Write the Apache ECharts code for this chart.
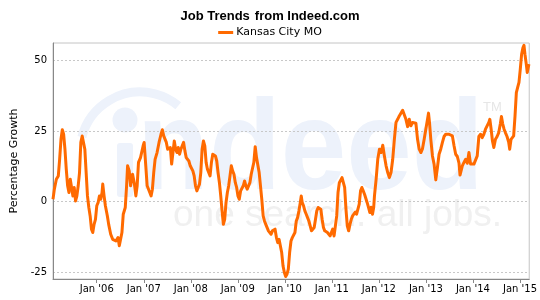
<!DOCTYPE html>
<html>
<head>
<meta charset="utf-8">
<title>Job Trends from Indeed.com</title>
<script src="https://cdn.jsdelivr.net/npm/echarts@6/dist/echarts.min.js"></script>
<style>
  html, body { margin: 0; padding: 0; background: #fff; }
  #chartsmain { width: 540px; height: 300px; }
</style>
</head>
<body>
<div id="chartsmain"></div>

<script>
    // weekly-ish samples, decimal years
    var weeks = [
        2005.070, 2005.099, 2005.141, 2005.183, 2005.211, 2005.240, 2005.268, 2005.296, 2005.324, 2005.352,
        2005.381, 2005.409, 2005.437, 2005.465, 2005.493, 2005.521, 2005.550, 2005.578, 2005.606, 2005.634,
        2005.662, 2005.691, 2005.719, 2005.747, 2005.775, 2005.803, 2005.832, 2005.860, 2005.888, 2005.916,
        2005.944, 2005.973, 2006.001, 2006.029, 2006.057, 2006.085, 2006.113, 2006.128, 2006.156, 2006.184,
        2006.226, 2006.254, 2006.297, 2006.339, 2006.381, 2006.409, 2006.452, 2006.480, 2006.508, 2006.536,
        2006.564, 2006.607, 2006.635, 2006.656, 2006.691, 2006.720, 2006.762, 2006.797, 2006.832, 2006.860,
        2006.888, 2006.931, 2006.959, 2006.987, 2007.008, 2007.043, 2007.072, 2007.100, 2007.128, 2007.156,
        2007.184, 2007.212, 2007.241, 2007.283, 2007.325, 2007.367, 2007.396, 2007.424, 2007.452, 2007.480,
        2007.508, 2007.537, 2007.565, 2007.593, 2007.621, 2007.649, 2007.678, 2007.706, 2007.734, 2007.762,
        2007.790, 2007.818, 2007.847, 2007.875, 2007.903, 2007.931, 2007.959, 2007.988, 2008.016, 2008.044,
        2008.072, 2008.100, 2008.129, 2008.157, 2008.185, 2008.213, 2008.241, 2008.269, 2008.298, 2008.326,
        2008.354, 2008.382, 2008.410, 2008.439, 2008.467, 2008.496, 2008.524, 2008.552, 2008.580, 2008.609,
        2008.637, 2008.665, 2008.693, 2008.721, 2008.749, 2008.778, 2008.806, 2008.834, 2008.862, 2008.890,
        2008.918, 2008.947, 2008.975, 2009.003, 2009.031, 2009.060, 2009.088, 2009.116, 2009.144, 2009.172,
        2009.200, 2009.229, 2009.257, 2009.285, 2009.313, 2009.341, 2009.370, 2009.398, 2009.426, 2009.454,
        2009.482, 2009.510, 2009.539, 2009.567, 2009.595, 2009.623, 2009.651, 2009.680, 2009.708, 2009.736,
        2009.764, 2009.792, 2009.821, 2009.849, 2009.877, 2009.905, 2009.933, 2009.962, 2009.990, 2010.018,
        2010.046, 2010.074, 2010.102, 2010.131, 2010.159, 2010.187, 2010.215, 2010.243, 2010.271, 2010.300,
        2010.328, 2010.349, 2010.370, 2010.398, 2010.426, 2010.455, 2010.483, 2010.511, 2010.539, 2010.567,
        2010.596, 2010.624, 2010.652, 2010.680, 2010.708, 2010.736, 2010.765, 2010.793, 2010.821, 2010.849,
        2010.877, 2010.906, 2010.934, 2010.962, 2010.990, 2011.018, 2011.047, 2011.075, 2011.103, 2011.131,
        2011.159, 2011.187, 2011.216, 2011.244, 2011.272, 2011.300, 2011.328, 2011.357, 2011.385, 2011.413,
        2011.441, 2011.469, 2011.498, 2011.526, 2011.554, 2011.582, 2011.610, 2011.638, 2011.667, 2011.695,
        2011.723, 2011.751, 2011.779, 2011.808, 2011.836, 2011.864, 2011.890, 2011.906, 2011.941, 2011.976,
        2012.012, 2012.047, 2012.082, 2012.117, 2012.153, 2012.188, 2012.223, 2012.258, 2012.294, 2012.329,
        2012.364, 2012.399, 2012.434, 2012.470, 2012.505, 2012.540, 2012.575, 2012.611, 2012.646, 2012.681,
        2012.716, 2012.752, 2012.787, 2012.822, 2012.857, 2012.893, 2012.928, 2012.963, 2012.998, 2013.034,
        2013.055, 2013.076, 2013.104, 2013.139, 2013.174, 2013.210, 2013.245, 2013.280, 2013.315, 2013.351,
        2013.386, 2013.421, 2013.456, 2013.492, 2013.527, 2013.563, 2013.598, 2013.633, 2013.668, 2013.704,
        2013.725, 2013.746, 2013.774, 2013.809, 2013.845, 2013.880, 2013.915, 2013.950, 2013.986, 2014.021,
        2014.056, 2014.091, 2014.126, 2014.162, 2014.197, 2014.232, 2014.267, 2014.303, 2014.338, 2014.359,
        2014.387, 2014.415, 2014.444, 2014.479, 2014.514, 2014.549, 2014.585, 2014.606, 2014.634, 2014.662,
        2014.690, 2014.725, 2014.761, 2014.782, 2014.810, 2014.838, 2014.866, 2014.895, 2014.923, 2014.951,
        2014.979, 2015.007, 2015.035, 2015.064, 2015.085, 2015.106, 2015.134, 2015.155, 2015.176, 2015.190
    ];

    // Kansas City MO, percentage growth
    var growth = [
        0.8, 4.4, 7.9, 9.1, 15.0, 22.1, 25.5, 23.9, 18.6, 11.5,
        5.6, 3.2, 7.9, 5.0, 2.0, 5.0, 0.2, 2.0, 5.6, 10.3,
        21.0, 23.3, 22.7, 18.6, 10.3, 2.0, -2.1, -5.1, -9.8, -11.0,
        -8.1, -6.3, -1.5, -0.4, 2.0, 0.8, 3.2, 6.2, 2.0, -1.5,
        -5.1, -8.1, -11.6, -13.4, -12.8, -14.0, -12.8, -15.7, -16.3, -11.0,
        -4.5, -2.1, 5.6, 12.7, 10.9, 5.6, 9.7, 6.7, 2.0, 5.6,
        13.9, 15.6, 16.2, 19.8, 21.0, 12.7, 5.6, 5.0, 3.2, 2.0,
        4.4, 10.3, 15.0, 17.4, 21.0, 23.9, 25.5, 23.3, 22.7, 21.0,
        18.6, 18.0, 19.2, 13.3, 17.4, 21.5, 18.6, 17.4, 19.2, 16.8,
        18.6, 19.8, 21.0, 18.0, 15.6, 15.0, 14.4, 12.7, 12.1, 10.9,
        9.1, 5.6, 3.8, 5.0, 6.2, 10.3, 18.6, 21.5, 19.8, 13.9,
        11.5, 10.9, 9.1, 13.9, 16.8, 16.8, 16.2, 14.4, 10.3, 6.7,
        2.0, -3.3, -8.1, -6.3, -0.4, 3.2, 5.6, 9.1, 12.7, 10.9,
        9.7, 6.7, 5.0, 2.0, 0.8, 3.8, 3.2, 5.6, 7.3, 5.6,
        4.4, 3.8, 6.7, 9.7, 10.3, 13.9, 19.5, 15.6, 15.0, 10.3,
        5.6, 0.8, -5.1, -6.9, -8.1, -8.6, -10.4, -11.0, -11.6, -10.4,
        -10.4, -9.8, -12.8, -14.6, -13.4, -13.4, -18.1, -22.9, -25.2, -26.6,
        -25.8, -24.0, -18.1, -14.0, -12.8, -12.8, -11.0, -6.9, -5.7, -3.3,
        -0.4, 2.0, -0.4, -1.5, -3.3, -4.5, -5.7, -6.9, -8.6, -10.4,
        -9.8, -9.2, -6.3, -3.3, -2.1, -1.5, -2.7, -6.3, -9.2, -10.4,
        -9.8, -11.0, -10.4, -12.2, -11.0, -9.8, -12.2, -12.8, -5.1, 3.2,
        6.7, 7.3, 8.5, 9.1, 5.0, -2.7, -8.6, -10.4, -8.1, -6.3,
        -5.1, -4.5, -3.7, -4.5, -5.1, -0.9, 3.8, 5.0, 3.8, 2.6,
        2.0, -0.4, -2.1, -3.9, -2.0, -4.5, -2.0, 2.0, 7.9, 15.0,
        18.6, 17.4, 20.0, 16.2, 12.7, 10.3, 8.5, 10.3, 15.0, 22.1,
        28.1, 29.2, 30.4, 31.0, 32.4, 32.2, 29.2, 26.6, 29.2, 26.9,
        28.1, 28.7, 27.8, 22.1, 18.6, 17.4, 18.8, 22.1, 25.7, 29.2,
        31.4, 28.1, 22.1, 16.2, 13.3, 7.7, 12.1, 16.8, 18.6, 21.0,
        23.1, 23.9, 23.3, 23.9, 23.6, 23.3, 19.8, 16.8, 16.0, 13.6,
        9.4, 9.7, 12.7, 13.9, 15.0, 13.6, 17.4, 13.3, 12.7, 13.3,
        12.7, 16.2, 23.1, 23.9, 22.7, 23.9, 25.7, 25.5, 28.1, 29.2,
        25.7, 21.5, 19.2, 22.1, 23.1, 24.5, 27.8, 30.2, 27.5, 25.7,
        24.5, 23.1, 21.0, 18.6, 22.1, 21.5, 23.3, 30.4, 38.7, 40.5,
        42.3, 47.0, 52.3, 54.7, 55.5, 52.3, 48.8, 45.8, 46.4, 48.8
    ];

    var yearTicks = [2006, 2007, 2008, 2009, 2010, 2011, 2012, 2013, 2014, 2015];
    var yearLabels = ["Jan '06", "Jan '07", "Jan '08", "Jan '09", "Jan '10", "Jan '11", "Jan '12", "Jan '13", "Jan '14", "Jan '15"];
    var growthTicks = [-25, 0, 25, 50];

    var seriesData = [];
    for (var i = 0; i < weeks.length; i++) {
        seriesData.push([weeks[i], growth[i]]);
    }

    var wmBlue = '#edf2fb';
    var wmGray = '#f0f0f0';

    var trendchart = echarts.init(document.getElementById('chartsmain'), null, {renderer: 'canvas'});

    var option = {
        animation: false,
        title: {
            text: '{b|Job Trends} {n|from Indeed.com}',
            left: 'center',
            top: 2,
            textStyle: {
                rich: {
                    b: {fontFamily: 'Liberation Sans', fontSize: 13, fontWeight: 'bold', color: '#000'},
                    n: {fontFamily: 'Liberation Sans', fontSize: 13, color: '#000'}
                }
            }
        },
        legend: {
            top: 22,
            left: 'center',
            icon: 'rect',
            itemWidth: 15,
            itemHeight: 3,
            itemGap: 5,
            textStyle: {fontFamily: 'DejaVu Sans', fontSize: 11, color: '#000', padding: [0, 0, 0, -2]},
            data: ['Kansas City MO']
        },
        grid: {
            left: 53,
            right: 8,
            top: 43,
            bottom: 21,
            show: true,
            borderColor: '#c4c4c4',
            borderWidth: 1,
            containLabel: false
        },
        graphic: [
            {
                type: 'group',
                z: -10,
                silent: true,
                children: [
                    {
                        type: 'arc',
                        shape: {cx: 140, cy: 152, r: 60, startAngle: Math.PI * 1.08, endAngle: Math.PI * 1.72},
                        style: {stroke: wmBlue, lineWidth: 9, fill: null}
                    },
                    {
                        type: 'circle',
                        shape: {cx: 125, cy: 120, r: 12.5},
                        style: {fill: wmBlue}
                    },
                    {
                        type: 'rect',
                        shape: {x: 117, y: 143, width: 16, height: 54, r: 3},
                        style: {fill: wmBlue}
                    },
                    {
                        type: 'text',
                        x: 137,
                        y: 154,
                        scaleX: 0.92,
                        style: {
                            text: 'ndeed',
                            fontFamily: 'Liberation Sans',
                            fontWeight: 'bold',
                            fontSize: 128,
                            fill: wmBlue,
                            align: 'left',
                            verticalAlign: 'middle'
                        }
                    },
                    {
                        type: 'text',
                        x: 483,
                        y: 107,
                        style: {
                            text: 'TM',
                            fontFamily: 'Liberation Sans',
                            fontSize: 13,
                            fill: '#e6e6e6',
                            align: 'left',
                            verticalAlign: 'middle'
                        }
                    },
                    {
                        type: 'text',
                        x: 173,
                        y: 216,
                        style: {
                            text: 'one search. all jobs.',
                            fontFamily: 'Liberation Sans',
                            fontSize: 37,
                            fill: wmGray,
                            align: 'left',
                            verticalAlign: 'middle'
                        }
                    }
                ]
            }
        ],
        xAxis: {
            type: 'value',
            min: 2005.07,
            max: 2015.197,
            axisLine: {show: true, onZero: false, lineStyle: {color: '#888', width: 1}},
            axisTick: {
                show: true,
                inside: false,
                length: 4,
                customValues: yearTicks,
                lineStyle: {color: '#888'}
            },
            axisLabel: {
                customValues: yearTicks,
                margin: 5,
                fontFamily: 'DejaVu Sans',
                fontSize: 10,
                color: '#000',
                formatter: function (v) {
                    var k = yearTicks.indexOf(Math.round(v));
                    return k >= 0 ? yearLabels[k] : '';
                }
            },
            splitLine: {show: false}
        },
        yAxis: {
            type: 'value',
            min: -27.5,
            max: 56.3,
            name: 'Percentage Growth',
            nameLocation: 'middle',
            nameGap: 29,
            nameTextStyle: {fontFamily: 'DejaVu Sans', fontSize: 11, color: '#000'},
            axisLine: {show: true, lineStyle: {color: '#888', width: 1}},
            axisTick: {show: false, customValues: growthTicks},
            axisLabel: {
                customValues: growthTicks,
                margin: 6,
                fontFamily: 'DejaVu Sans',
                fontSize: 10,
                color: '#000'
            },
            splitLine: {
                show: true,
                lineStyle: {color: '#c8c8c8', type: [2, 2], width: 1}
            }
        },
        series: [
            {
                name: 'Kansas City MO',
                type: 'line',
                data: seriesData,
                symbol: 'none',
                clip: true,
                itemStyle: {color: '#ff6a00'},
                lineStyle: {color: '#ff6a00', width: 3, join: 'round'}
            }
        ]
    };
    trendchart.setOption(option);
</script>
</body>
</html>
